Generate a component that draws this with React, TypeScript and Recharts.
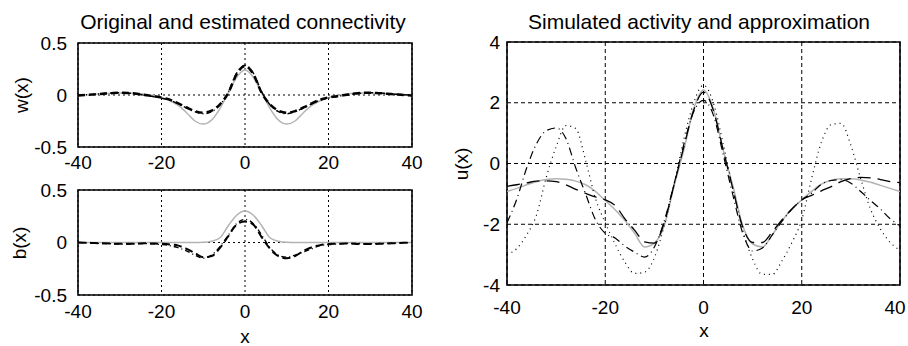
import { LineChart, Line, XAxis, YAxis, CartesianGrid, ReferenceArea } from 'recharts'

const FONT = "'Liberation Sans', Arial, Helvetica, sans-serif"

// sample positions along x
const xs = [
  -40, -38, -36, -34, -32, -30, -28, -26, -24, -22, -20, -18, -16, -14, -12, -10, -8, -6, -4, -2, 0,
  2, 4, 6, 8, 10, 12, 14, 16, 18, 20, 22, 24, 26, 28, 30, 32, 34, 36, 38, 40,
]
const xTicks = [-40, -20, 0, 20, 40]

// connectivity w(x): original (gray) and two estimates
const wOrig = [
  0.0, 0.003, 0.007, 0.012, 0.017, 0.02, 0.02, 0.016, 0.008, -0.005, -0.025, -0.055, -0.1, -0.17,
  -0.25, -0.28, -0.24, -0.13, 0.02, 0.17, 0.24, 0.17, 0.02, -0.13, -0.24, -0.28, -0.25, -0.17, -0.1,
  -0.055, -0.025, -0.005, 0.008, 0.016, 0.02, 0.02, 0.017, 0.012, 0.007, 0.003, 0.0,
]
const wEstA = [
  -0.005, 0.0, 0.006, 0.012, 0.018, 0.022, 0.02, 0.012, 0.0, -0.012, -0.025, -0.045, -0.08, -0.12,
  -0.155, -0.17, -0.15, -0.09, 0.02, 0.2, 0.28, 0.2, 0.02, -0.09, -0.15, -0.17, -0.155, -0.12, -0.08,
  -0.045, -0.025, -0.012, 0.0, 0.012, 0.02, 0.022, 0.018, 0.012, 0.006, 0.0, -0.005,
]
const wEstB = [
  0.0, 0.002, 0.008, 0.014, 0.02, 0.022, 0.018, 0.01, -0.002, -0.015, -0.03, -0.05, -0.085, -0.125,
  -0.16, -0.18, -0.16, -0.095, 0.03, 0.21, 0.285, 0.21, 0.03, -0.095, -0.16, -0.18, -0.16, -0.125,
  -0.085, -0.05, -0.03, -0.015, -0.002, 0.01, 0.018, 0.022, 0.02, 0.014, 0.008, 0.002, 0.0,
]
const wTicks = [-0.5, 0, 0.5]

// b(x): original (gray) and two estimates
const bOrig = [
  0, 0, 0, 0, 0, 0, 0, 0, 0, 0, 0, 0, 0, 0, 0, 0.002, 0.012, 0.045, 0.16, 0.26, 0.3, 0.26, 0.16,
  0.045, 0.012, 0.002, 0, 0, 0, 0, 0, 0, 0, 0, 0, 0, 0, 0, 0, 0, 0,
]
const bEstA = [
  0.0, -0.002, -0.005, -0.008, -0.01, -0.012, -0.012, -0.01, -0.008, -0.01, -0.012, -0.018, -0.03,
  -0.06, -0.1, -0.14, -0.13, -0.05, 0.06, 0.17, 0.2, 0.17, 0.05, -0.06, -0.13, -0.15, -0.13, -0.08,
  -0.045, -0.025, -0.015, -0.012, -0.01, -0.012, -0.015, -0.015, -0.012, -0.01, -0.006, -0.003, 0.0,
]
const bEstB = [
  0.0, -0.003, -0.006, -0.01, -0.012, -0.015, -0.015, -0.012, -0.01, -0.014, -0.02, -0.03, -0.05,
  -0.08, -0.12, -0.15, -0.12, -0.04, 0.07, 0.18, 0.22, 0.18, 0.07, -0.05, -0.12, -0.14, -0.12, -0.09,
  -0.06, -0.03, -0.02, -0.015, -0.01, -0.008, -0.01, -0.012, -0.01, -0.008, -0.005, -0.002, 0.0,
]
const bTicks = [-0.5, 0, 0.5]

// u(x): simulated activity (dotted), original (gray) and approximations
const uOrig = [
  -0.92, -0.82, -0.7, -0.6, -0.53, -0.5, -0.52, -0.58, -0.7, -0.92, -1.22, -1.52, -1.88, -2.3,
  -2.75, -2.62, -2.05, -0.75, 0.45, 1.8, 2.42, 1.8, 0.45, -0.75, -2.05, -2.65, -2.75, -2.35, -1.88,
  -1.5, -1.2, -0.92, -0.68, -0.55, -0.5, -0.5, -0.54, -0.62, -0.72, -0.82, -0.92,
]
const uEstA = [
  -0.75, -0.7, -0.64, -0.58, -0.57, -0.6, -0.7, -0.85, -0.98, -1.1, -1.2, -1.38, -1.82, -2.2, -2.58,
  -2.62, -1.95, -0.7, 0.55, 1.75, 2.35, 1.75, 0.45, -0.85, -2.1, -2.6, -2.6, -2.25, -1.85, -1.5,
  -1.2, -1.05, -0.9, -0.76, -0.6, -0.5, -0.46, -0.47, -0.53, -0.6, -0.63,
]
const uEstB = [
  -1.95, -1.17, -0.15, 0.65, 1.08, 1.17, 0.82, -0.15, -1.0, -1.85, -2.3, -2.45, -2.72, -2.92, -3.08,
  -2.75, -1.9, -0.68, 0.63, 1.7, 2.08, 1.6, 0.3, -1.05, -2.3, -2.88, -2.78, -2.35, -1.9, -1.5, -1.2,
  -0.98, -0.68, -0.56, -0.53, -0.65, -0.92, -1.22, -1.5, -1.82, -2.05,
]
const uSim = [
  -3.0, -2.8, -2.35, -1.7, -0.45, 0.55, 1.25, 1.15, 0.1, -1.15, -1.95, -2.65, -3.25, -3.62, -3.58,
  -3.1, -2.05, -0.7, 0.8, 2.0, 2.58, 2.0, 0.65, -0.85, -2.2, -3.15, -3.65, -3.65, -3.2, -2.6, -1.85,
  -0.5, 0.7, 1.28, 1.32, 0.6, -0.5, -1.5, -2.15, -2.6, -2.85,
]
const uTicks = [-4, -2, 0, 2, 4]

const wData = xs.map((x, i) => ({ x, orig: wOrig[i], estA: wEstA[i], estB: wEstB[i] }))
const bData = xs.map((x, i) => ({ x, orig: bOrig[i], estA: bEstA[i], estB: bEstB[i] }))
const uData = xs.map((x, i) => ({
  x,
  sim: uSim[i],
  orig: uOrig[i],
  estA: uEstA[i],
  estB: uEstB[i],
}))

type Series = { key: string; stroke: string; width: number; dash?: string }

type PanelProps = {
  data: any[]
  left: number
  top: number
  width: number
  height: number
  marginTop: number
  marginRight: number
  yAxisWidth: number
  xAxisHeight: number
  yTicks: number[]
  gridDash: string
  xTickMargin: number
  yTickMargin: number
  maxTickX: number
  series: Series[]
}

const tickStyle = { fill: '#000', fontSize: 19, fontFamily: FONT }

// x tick label, kept inside the chart's right edge
const makeXTick = (maxX: number) => (props: any) => {
  const { x, y, payload } = props
  return (
    <text
      x={Math.min(x, maxX)}
      y={y}
      dy="0.71em"
      textAnchor="middle"
      fill="#000"
      fontSize={19}
      fontFamily={FONT}
    >
      {payload.value}
    </text>
  )
}

const Panel = (p: PanelProps) => {
  const yMin = p.yTicks[0]
  const yMax = p.yTicks[p.yTicks.length - 1]
  return (
    <div style={{ position: 'absolute', left: p.left, top: p.top }}>
      <LineChart
        width={p.width}
        height={p.height}
        data={p.data}
        margin={{ top: p.marginTop, right: p.marginRight, bottom: 0, left: 0 }}
      >
        <CartesianGrid stroke="#000" strokeWidth={1} strokeDasharray={p.gridDash} />
        <XAxis
          dataKey="x"
          type="number"
          domain={[-40, 40]}
          ticks={xTicks}
          allowDataOverflow
          height={p.xAxisHeight}
          axisLine={false}
          tickLine={false}
          tickSize={0}
          tickMargin={p.xTickMargin}
          tick={makeXTick(p.maxTickX)}
          interval={0}
        />
        <YAxis
          type="number"
          domain={[yMin, yMax]}
          ticks={p.yTicks}
          allowDataOverflow
          width={p.yAxisWidth}
          axisLine={false}
          tickLine={false}
          tickSize={0}
          tickMargin={p.yTickMargin}
          tick={tickStyle}
          interval={0}
        />
        {p.series.map((s) => (
          <Line
            key={s.key}
            type="monotone"
            dataKey={s.key}
            stroke={s.stroke}
            strokeWidth={s.width}
            strokeDasharray={s.dash}
            dot={false}
            activeDot={false}
            isAnimationActive={false}
          />
        ))}
        <ReferenceArea
          x1={-40}
          x2={40}
          y1={yMin}
          y2={yMax}
          fill="none"
          fillOpacity={0}
          stroke="#000"
          strokeWidth={1.6}
        />
      </LineChart>
    </div>
  )
}

const label = (text: string, x: number, y: number, size: number, rotate = false) => (
  <div
    style={{
      position: 'absolute',
      left: x,
      top: y,
      transform: `translate(-50%, -50%)${rotate ? ' rotate(-90deg)' : ''}`,
      fontFamily: FONT,
      fontSize: size,
      lineHeight: 1,
      whiteSpace: 'nowrap',
      color: '#000',
    }}
  >
    {text}
  </div>
)

const GRAY = '#b3b3b3'

const App = () => {
  return (
    <div
      style={{
        position: 'absolute',
        left: 0,
        top: 0,
        width: 908,
        height: 346,
        background: '#fff',
        overflow: 'hidden',
      }}
    >
      <Panel
        data={wData}
        left={0}
        top={0}
        width={454}
        height={175}
        marginTop={43}
        marginRight={42}
        yAxisWidth={78}
        xAxisHeight={28}
        yTicks={wTicks}
        gridDash="2 3"
        xTickMargin={9}
        yTickMargin={11}
        maxTickX={440}
        series={[
          { key: 'orig', stroke: GRAY, width: 1.5 },
          { key: 'estB', stroke: '#000', width: 1.5, dash: '5 3 1 3' },
          { key: 'estA', stroke: '#000', width: 2.5, dash: '7 4' },
        ]}
      />
      <Panel
        data={bData}
        left={0}
        top={175}
        width={454}
        height={150}
        marginTop={15}
        marginRight={42}
        yAxisWidth={78}
        xAxisHeight={30}
        yTicks={bTicks}
        gridDash="2 3"
        xTickMargin={10}
        yTickMargin={11}
        maxTickX={440}
        series={[
          { key: 'orig', stroke: GRAY, width: 1.5 },
          { key: 'estB', stroke: '#000', width: 1.3, dash: '5 3 1 3' },
          { key: 'estA', stroke: '#000', width: 2, dash: '8 4' },
        ]}
      />
      <Panel
        data={uData}
        left={454}
        top={0}
        width={454}
        height={320}
        marginTop={42}
        marginRight={8}
        yAxisWidth={53}
        xAxisHeight={35}
        yTicks={uTicks}
        gridDash="4 3"
        xTickMargin={16}
        yTickMargin={7}
        maxTickX={441}
        series={[
          { key: 'orig', stroke: GRAY, width: 1.5 },
          { key: 'sim', stroke: '#000', width: 1.2, dash: '1 4' },
          { key: 'estB', stroke: '#000', width: 1.2, dash: '8 4 1 4' },
          { key: 'estA', stroke: '#000', width: 1.3, dash: '13 7' },
        ]}
      />
      {label('Original and estimated connectivity', 243, 21, 21)}
      {label('Simulated activity and approximation', 699, 21, 21)}
      {label('w(x)', 21, 95, 19, true)}
      {label('b(x)', 19, 243, 19, true)}
      {label('u(x)', 461, 164, 19, true)}
      {label('x', 245, 336, 19)}
      {label('x', 704, 330, 19)}
    </div>
  )
}

export default App
